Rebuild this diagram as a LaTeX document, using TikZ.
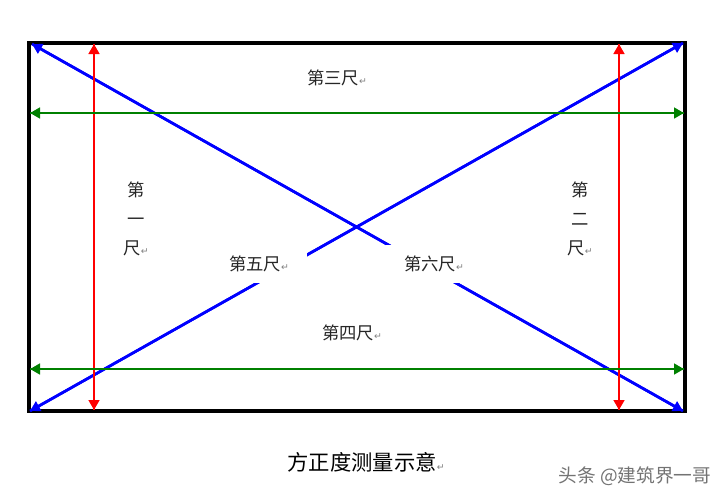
\documentclass[tikz,border=0pt]{standalone}
\usepackage{fontspec}
\newfontfamily\cjk{Noto Sans CJK SC}
\newfontfamily\symfont{DejaVu Sans}
\usetikzlibrary{arrows.meta}
\newcommand{\ret}{{\symfont\fontsize{7}{7}\selectfont\color{gray}↵}}

\begin{document}
\begin{tikzpicture}[x=0.75pt, y=-0.75pt,
    frame/.style = {draw=black, line width=3pt},
    ruler/.style = {line width=2pt, -{Triangle[length=7.5pt, width=8pt]}},
    lbl/.style = {font=\cjk\fontsize{13}{15}\selectfont, text=black!85, inner sep=0pt},
    gap/.style = {lbl, fill=white, minimum width=72pt, minimum height=28pt},
    col/.style = {lbl, align=center, font=\cjk\fontsize{13}{21.5}\selectfont}]
		\useasboundingbox (0,0) rectangle (725,501);
		% frame corners
		\coordinate (tl) at (29,43);
		\coordinate (br) at (685,411);
		\draw[frame] (tl) rectangle (br);
		% arrow end points
		\coordinate (r1t) at (94,44);
		\coordinate (r1b) at (94,410);
		\coordinate (r2t) at (619,44);
		\coordinate (r2b) at (619,410);
		\coordinate (g1l) at (30,113);
		\coordinate (g1r) at (684,113);
		\coordinate (g2l) at (30,369);
		\coordinate (g2r) at (684,369);
		\coordinate (d1a) at (32,44);
		\coordinate (d1b) at (683,411);
		\coordinate (d2a) at (683,43);
		\coordinate (d2b) at (30,411);
		\draw[ruler, blue] (d1b) -- (d1a);
		\draw[ruler, blue] (d1a) -- (d1b);
		\draw[ruler, blue] (d2b) -- (d2a);
		\draw[ruler, blue] (d2a) -- (d2b);
		\draw[ruler, red] (r1b) -- (r1t);
		\draw[ruler, red] (r1t) -- (r1b);
		\draw[ruler, red] (r2b) -- (r2t);
		\draw[ruler, red] (r2t) -- (r2b);
		\draw[ruler, green!50!black] (g1r) -- (g1l);
		\draw[ruler, green!50!black] (g1l) -- (g1r);
		\draw[ruler, green!50!black] (g2r) -- (g2l);
		\draw[ruler, green!50!black] (g2l) -- (g2r);
		% labels
		\node[lbl] (c3) at (337,78) {第三尺\ret};
		\node[lbl] (c4) at (352,333) {第四尺\ret};
		\node[col] (c1) at (136,219) {第\\一\\尺\ret};
		\node[col] (c2) at (580,219) {第\\二\\尺\ret};
		\node[gap] (c5) at (259,264) {第五尺\ret};
		\node[gap] (c6) at (434,264) {第六尺\ret};
		\node[lbl, font=\cjk\fontsize{16}{19}\selectfont, text=black] (title) at (366,462) {方正度测量示意\ret};
		\node[lbl, font=\cjk\fontsize{14}{17}\selectfont, text=black!55] (mark) at (635,476) {头条 @建筑界一哥};
	\end{tikzpicture}
\end{document}
